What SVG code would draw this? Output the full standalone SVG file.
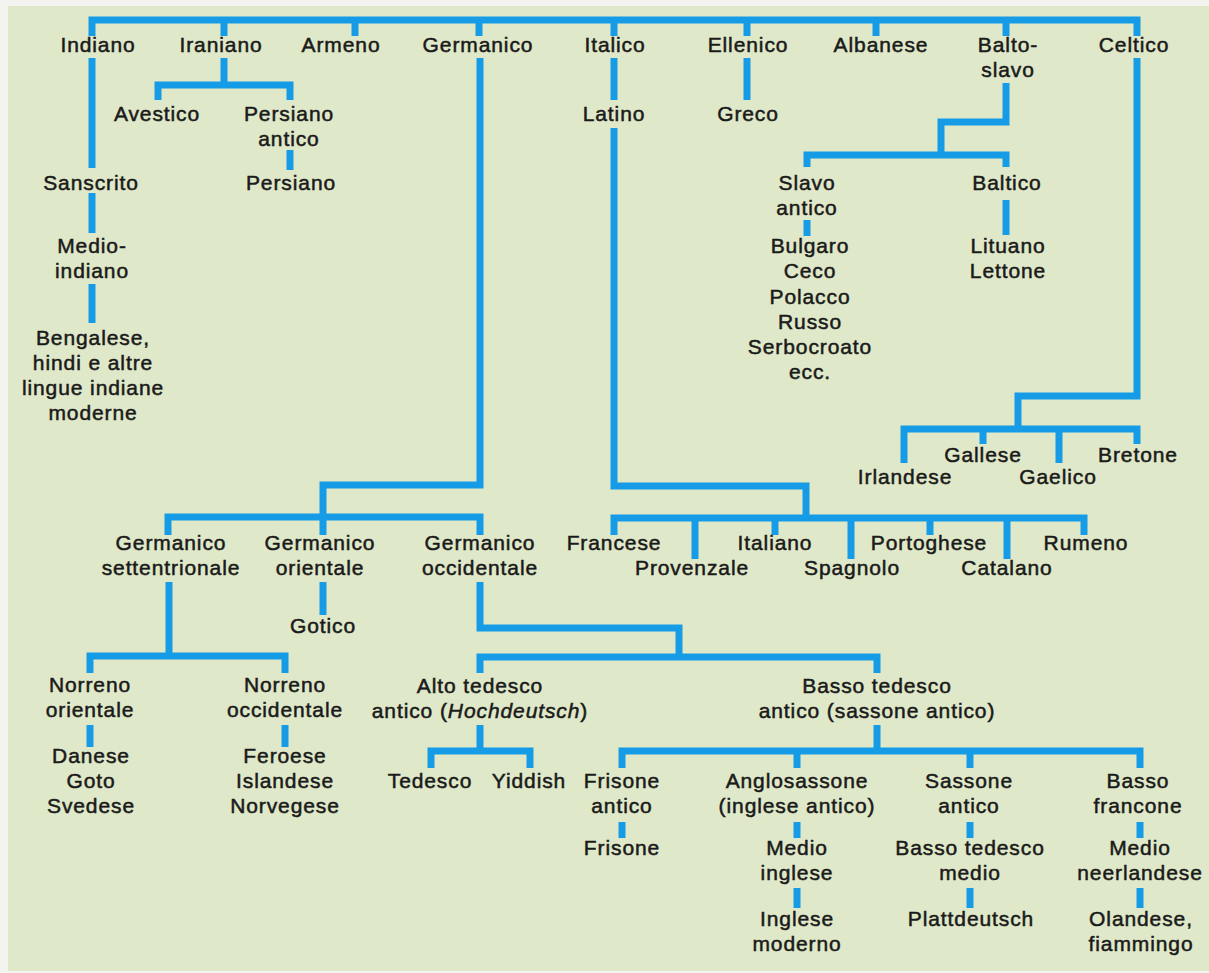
<svg xmlns="http://www.w3.org/2000/svg" width="1209" height="973" viewBox="0 0 1209 973">
<style>
text{font-family:"Liberation Sans",Arial,Helvetica,sans-serif;font-size:21px;letter-spacing:0.9px;fill:#1a1a1a;stroke:#1a1a1a;stroke-width:0.5;text-anchor:middle}
.c{fill:none;stroke:#169be6;stroke-width:7;stroke-linejoin:miter;stroke-linecap:butt}
</style>
<rect x="0" y="0" width="1209" height="973" fill="#f3f4f0"/>
<rect x="8" y="6" width="1201" height="965" fill="#dfe8c8"/>
<g id="connectors" class="c">
<path d="M92,36 V20 H1137 V36"/>
<path d="M224,20 V36 M355,20 V36 M479,20 V36 M614,20 V36 M747,20 V36 M876,20 V36 M1006,20 V36"/>
<path d="M92,58 V168 M92,193 V233 M92,284 V323"/>
<path d="M224,58 V85 M158,100 V85 H290 V100 M290,150 V170"/>
<path d="M480,58 V485 H323 V535 M168,535 V517 H480 V535"/>
<path d="M323,582 V615"/>
<path d="M169,582 V656 M90,673 V656 H285 V673 M90,725 V747 M285,725 V747"/>
<path d="M480,582 V628 H679 V657 M480,673 V657 H877 V673"/>
<path d="M480,725 V751 M431,768 V751 H530 V768"/>
<path d="M877,725 V751 M622,768 V751 H1140 V768 M797,751 V768 M970,751 V768"/>
<path d="M622,822 V838 M797,822 V838 M797,888 V908 M970,822 V838 M970,888 V908 M1140,822 V838 M1140,888 V908"/>
<path d="M614,58 V100 M614,128 V486 H806 V518 M614,535 V518 H1084 V535 M695,518 V559 M775,518 V535 M851,518 V559 M930,518 V535 M1007,518 V559"/>
<path d="M747,58 V100"/>
<path d="M1006,83 V122 H941 V155 M807,167 V155 H1006 V167 M807,220 V236 M1006,200 V235"/>
<path d="M1137,58 V396 H1018 V429 M904,463 V429 H1137 V444 M983,429 V444 M1059,429 V463"/>
</g>
<g id="indiano"><text x="98" y="52">Indiano</text></g>
<g id="iraniano"><text x="221" y="52">Iraniano</text></g>
<g id="armeno"><text x="341" y="52">Armeno</text></g>
<g id="germanico"><text x="478" y="52">Germanico</text></g>
<g id="italico"><text x="615" y="52">Italico</text></g>
<g id="ellenico"><text x="748" y="52">Ellenico</text></g>
<g id="albanese"><text x="881" y="52">Albanese</text></g>
<g id="baltoslavo"><text x="1008" y="52">Balto-</text><text x="1008" y="77">slavo</text></g>
<g id="celtico"><text x="1134" y="52">Celtico</text></g>
<g id="avestico"><text x="157" y="121">Avestico</text></g>
<g id="persiano-antico"><text x="289" y="121">Persiano</text><text x="289" y="146">antico</text></g>
<g id="latino"><text x="614" y="121">Latino</text></g>
<g id="greco"><text x="748" y="121">Greco</text></g>
<g id="sanscrito"><text x="91" y="190">Sanscrito</text></g>
<g id="persiano"><text x="291" y="190">Persiano</text></g>
<g id="slavo-antico"><text x="807" y="190">Slavo</text><text x="807" y="215">antico</text></g>
<g id="baltico"><text x="1007" y="190">Baltico</text></g>
<g id="medio-indiano"><text x="92" y="253">Medio-</text><text x="92" y="278">indiano</text></g>
<g id="slave"><text x="810" y="253">Bulgaro</text><text x="810" y="278">Ceco</text><text x="810" y="304">Polacco</text><text x="810" y="329">Russo</text><text x="810" y="354">Serbocroato</text><text x="810" y="379">ecc.</text></g>
<g id="baltiche"><text x="1008" y="253">Lituano</text><text x="1008" y="278">Lettone</text></g>
<g id="indiane-moderne"><text x="93" y="345">Bengalese,</text><text x="93" y="370">hindi e altre</text><text x="93" y="395">lingue indiane</text><text x="93" y="420">moderne</text></g>
<g id="irlandese"><text x="905" y="484">Irlandese</text></g>
<g id="gallese"><text x="983" y="462">Gallese</text></g>
<g id="gaelico"><text x="1058" y="484">Gaelico</text></g>
<g id="bretone"><text x="1138" y="462">Bretone</text></g>
<g id="germ-sett"><text x="171" y="550">Germanico</text><text x="171" y="575">settentrionale</text></g>
<g id="germ-or"><text x="320" y="550">Germanico</text><text x="320" y="575">orientale</text></g>
<g id="germ-occ"><text x="480" y="550">Germanico</text><text x="480" y="575">occidentale</text></g>
<g id="francese"><text x="614" y="550">Francese</text></g>
<g id="provenzale"><text x="692" y="575">Provenzale</text></g>
<g id="italiano"><text x="775" y="550">Italiano</text></g>
<g id="spagnolo"><text x="852" y="575">Spagnolo</text></g>
<g id="portoghese"><text x="929" y="550">Portoghese</text></g>
<g id="catalano"><text x="1007" y="575">Catalano</text></g>
<g id="rumeno"><text x="1086" y="550">Rumeno</text></g>
<g id="gotico"><text x="323" y="633">Gotico</text></g>
<g id="norreno-or"><text x="90" y="692">Norreno</text><text x="90" y="717">orientale</text></g>
<g id="norreno-occ"><text x="285" y="692">Norreno</text><text x="285" y="717">occidentale</text></g>
<g id="alto-tedesco"><text x="480" y="693">Alto tedesco</text><text x="480" y="718">antico (<tspan font-style="italic">Hochdeutsch</tspan>)</text></g>
<g id="basso-tedesco"><text x="877" y="693">Basso tedesco</text><text x="877" y="718">antico (sassone antico)</text></g>
<g id="nord-lingue"><text x="91" y="763">Danese</text><text x="91" y="788">Goto</text><text x="91" y="813">Svedese</text></g>
<g id="ovest-lingue"><text x="285" y="763">Feroese</text><text x="285" y="788">Islandese</text><text x="285" y="813">Norvegese</text></g>
<g id="tedesco"><text x="430" y="788">Tedesco</text></g>
<g id="yiddish"><text x="529" y="788">Yiddish</text></g>
<g id="frisone-antico"><text x="622" y="788">Frisone</text><text x="622" y="813">antico</text></g>
<g id="anglosassone"><text x="797" y="788">Anglosassone</text><text x="797" y="813">(inglese antico)</text></g>
<g id="sassone-antico"><text x="969" y="788">Sassone</text><text x="969" y="813">antico</text></g>
<g id="basso-francone"><text x="1138" y="788">Basso</text><text x="1138" y="813">francone</text></g>
<g id="frisone"><text x="622" y="855">Frisone</text></g>
<g id="medio-inglese"><text x="797" y="855">Medio</text><text x="797" y="880">inglese</text></g>
<g id="basso-tedesco-medio"><text x="970" y="855">Basso tedesco</text><text x="970" y="880">medio</text></g>
<g id="medio-neerlandese"><text x="1140" y="855">Medio</text><text x="1140" y="880">neerlandese</text></g>
<g id="inglese-moderno"><text x="797" y="926">Inglese</text><text x="797" y="951">moderno</text></g>
<g id="plattdeutsch"><text x="971" y="926">Plattdeutsch</text></g>
<g id="olandese"><text x="1141" y="926">Olandese,</text><text x="1141" y="951">fiammingo</text></g>
</svg>
